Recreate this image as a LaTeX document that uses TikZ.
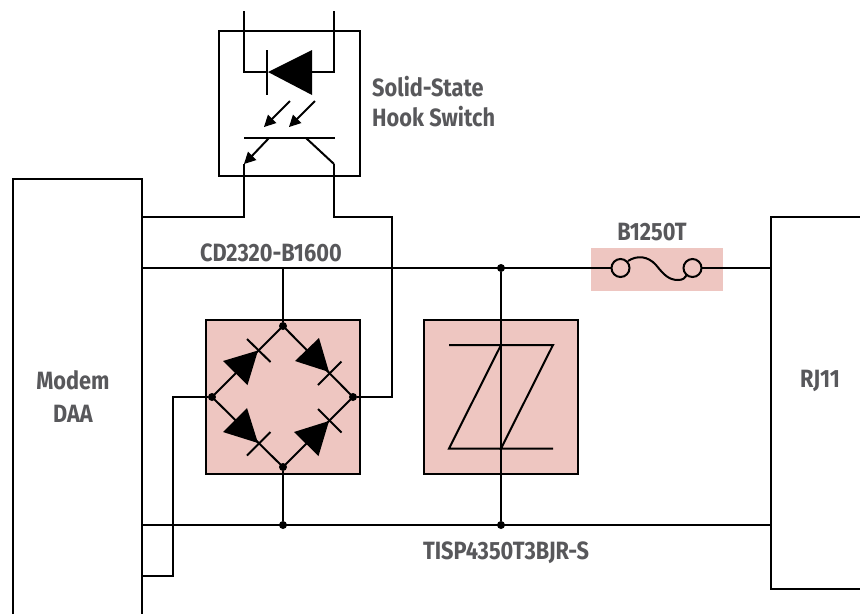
\documentclass[tikz,border=0pt]{standalone}
\usepackage{fontspec}
\setmainfont{Fira Sans}[UprightFont={* Bold},BoldFont={* Bold},FakeStretch=0.87]
\definecolor{pk}{HTML}{EEC6C1}
\definecolor{tx}{HTML}{58585B}
\tikzset{
 wire/.style={line width=2pt,black},
 lab/.style={font=\bfseries\fontsize{25}{30}\selectfont,text=tx,align=left,inner sep=0pt},
 dot/.style={circle,fill=black,inner sep=0pt,minimum size=8pt},
 panel/.style={fill=pk,draw=black,line width=2pt},
 panelb/.style={fill=pk}
}
\begin{document}
\begin{tikzpicture}[x=1pt,y=-1pt]
\useasboundingbox (0,0) rectangle (860,614);
% boxes
\draw[wire] (219,31) rectangle (360,176);
\draw[wire] (13,614) -- (13,179) -- (142,179) -- (142,614);
\draw[wire] (860,217) -- (771,217) -- (771,589) -- (860,589);
\fill[panelb] (591,248) rectangle (723,291);
\node[panel,minimum width=154pt,minimum height=153.5pt,inner sep=0pt] (bridge) at (283,397) {};
\node[panel,minimum width=154pt,minimum height=153.5pt,inner sep=0pt] (tvs) at (501,397) {};
% coordinates and dots
\node[dot] (bt) at (283,326) {};
\node[dot] (bl) at (212,397) {};
\node[dot] (br) at (353,397) {};
\node[dot] (bb) at (283,467) {};
\node[dot] (t1) at (501,268) {};
\node[dot] (b1) at (283,525) {};
\node[dot] (b2) at (501,525) {};
% main wires
\draw[wire] (142,268) -- (611,268);
\draw[wire] (701,268) -- (771,268);
\draw[wire] (142,525) -- (771,525);
\draw[wire] (283,268) -- (bt);
\draw[wire] (bb) -- (b1);
\draw[wire] (t1) -- (b2);
\draw[wire] (142,576) -- (173,576) -- (173,397) -- (bl);
\draw[wire] (142,217) -- (244,217) -- (244,164);
\draw[wire] (334,164) -- (334,217) -- (392,217) -- (392,397) -- (br);
% bridge
\draw[wire] (bt.center) -- (bl.center) -- (bb.center) -- (br.center) -- (bt.center);
\fill (258,350.5) -- (223,361) -- (247.5,385) -- cycle;
\draw[wire] (247,339) -- (270.5,362);
\fill (329,372) -- (295,361) -- (319,338) -- cycle;
\draw[wire] (318,385) -- (341.5,361.5);
\fill (258,443) -- (247,408) -- (223,432) -- cycle;
\draw[wire] (247,455.5) -- (270.5,432);
\fill (329,421) -- (318.5,456) -- (294,432) -- cycle;
\draw[wire] (318,409) -- (341.5,432.5);
% TVS
\draw[wire] (449,345) -- (553,345) -- (501,448.5) -- (553,448.5);
\draw[wire] (501,345) -- (449,448.5) -- (501,448.5);
% fuse
\draw[wire] (620.5,268) circle (9);
\draw[wire] (692.5,268) circle (9);
\draw[wire] (628,261) .. controls (637,255) and (648,256) .. (656,265) .. controls (664,275) and (669,280) .. (678,280) .. controls (683,280) and (685,278) .. (687,275);
% opto
\draw[wire] (244,11) -- (244,72) -- (268,72);
\draw[wire] (334,11) -- (334,72) -- (312,72);
\fill (268,72) -- (312,50) -- (312,95) -- cycle;
\draw[wire] (267,50) -- (267,95);
\draw[wire] (290,101) -- (270,121);
\fill (264,127) -- (268,114.5) -- (276.5,123) -- cycle;
\draw[wire] (315,101) -- (295,121);
\fill (289,127) -- (293,114.5) -- (301.5,123) -- cycle;
\draw[wire] (244,138) -- (335,138);
\draw[wire] (269,138) -- (250,158);
\fill (244,164) -- (248,151.5) -- (256.5,160) -- cycle;
\draw[wire] (306,138) -- (334,164);
% labels
\node[lab,anchor=west] (ss) at (372,102) {Solid-State\\Hook Switch};
\node[lab,anchor=center] (cd) at (271,253) {CD2320-B1600};
\node[lab,anchor=center] (fu) at (652,232) {B1250T};
\node[lab,anchor=center] (ti) at (506,553) {TISP4350T3BJR-S};
\node[lab,align=center,font=\bfseries\fontsize{25}{33}\selectfont] (mo) at (73,397) {Modem\\DAA};
\node[lab,anchor=center] (rj) at (820,381) {RJ11};
\end{tikzpicture}
\end{document}
